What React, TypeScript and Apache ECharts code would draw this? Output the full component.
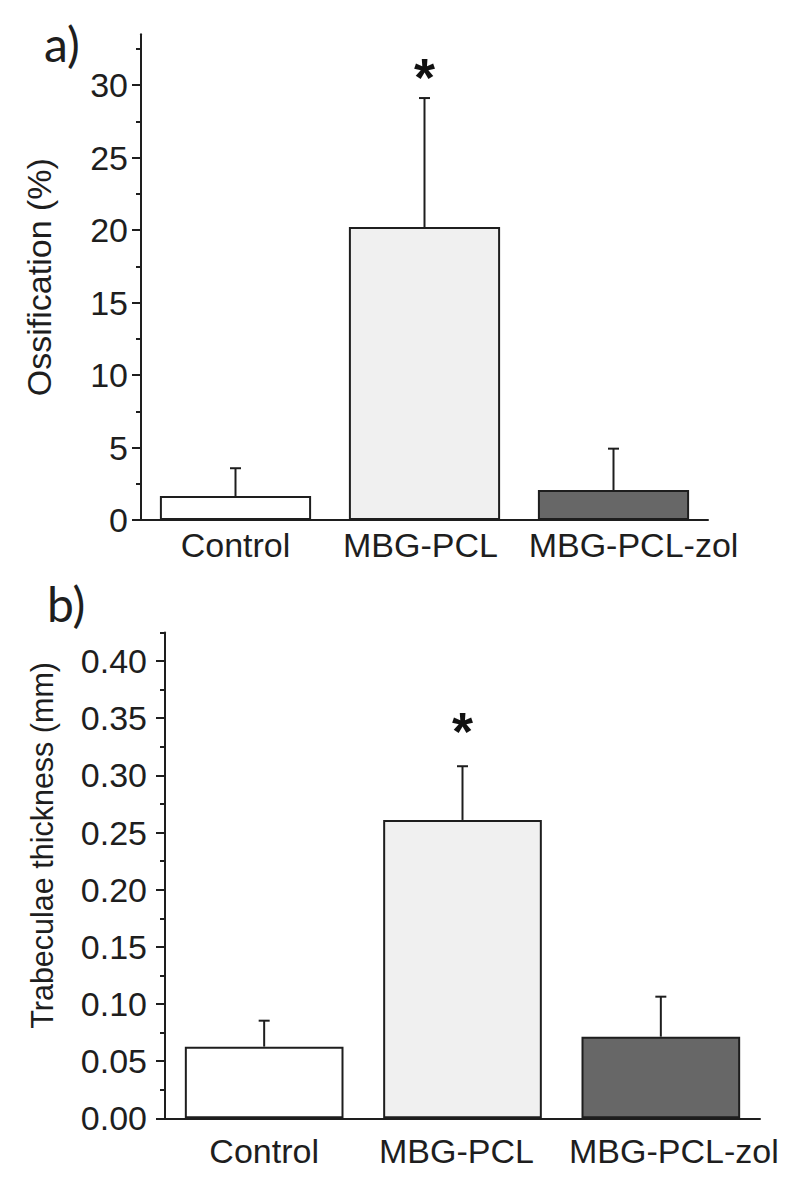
import React, { useEffect, useRef } from "react";
import * as echarts from "echarts";

const categories = ["Control", "MBG-PCL", "MBG-PCL-zol"];

// a) Ossification (%)
const ossMean = [1.65, 20.2, 2.07];
const ossSD = [1.92, 8.9, 2.85];
const ossStar: (number | null)[] = [null, 31.0, null];
const ossTicks = [0, 5, 10, 15, 20, 25, 30];
const ossMinorTicks = [2.5, 7.5, 12.5, 17.5, 22.5, 27.5, 32.5];

// b) Trabeculae thickness (mm)
const trabMean = [0.0627, 0.261, 0.0714];
const trabSD = [0.0227, 0.047, 0.035];
const trabStar: (number | null)[] = [null, 0.3445, null];
const trabTicks = [0, 0.05, 0.1, 0.15, 0.2, 0.25, 0.3, 0.35, 0.4];
const trabMinorTicks = [0.025, 0.075, 0.125, 0.175, 0.225, 0.275, 0.325, 0.375, 0.425];

const barColors = ["#ffffff", "#f0f0f0", "#676767"];

const FONT = '"Liberation Sans", Arial, sans-serif';
const INK = "#1e1e1e";

export default function App() {
  const ref = useRef<HTMLDivElement>(null);

  useEffect(() => {
    if (!ref.current) return;
    const chart = echarts.init(ref.current, null, { renderer: "svg" });

    const labelShiftTop = [0, -8, 40];
    const labelShiftBot = [0, -12, 26];
    const mkRich = (shifts: number[]) => {
      const r: any = {};
      shifts.forEach((s, i) => {
        r["c" + i] = {
          fontSize: 34,
          fontFamily: FONT,
          color: INK,
          padding: s >= 0 ? [0, 0, 0, s] : [0, -s, 0, 0],
        };
      });
      return r;
    };

    const xAxis = (gridIndex: number, margin: number, shifts: number[]) => ({
      type: "category",
      gridIndex,
      data: categories,
      axisLine: { lineStyle: { color: INK, width: 2 } },
      axisTick: { show: false },
      axisLabel: {
        margin,
        formatter: (v: string) => `{c${categories.indexOf(v)}|${v}}`,
        rich: mkRich(shifts),
      },
    });

    const yMajor = (
      gridIndex: number,
      max: number,
      ticks: number[],
      name: string,
      nameGap: number,
      nameSize: number,
      namePad: number[],
      labelMargin: number,
      fmt: (v: number) => string
    ) => ({
      type: "value",
      gridIndex,
      min: 0,
      max,
      position: "left",
      name,
      nameLocation: "middle",
      nameGap,
      nameTextStyle: { fontSize: nameSize, fontFamily: FONT, color: INK, padding: namePad },
      axisLine: { show: true, lineStyle: { color: INK, width: 2 } },
      axisTick: { show: true, customValues: ticks, length: 9, lineStyle: { color: INK, width: 2 } },
      axisLabel: {
        customValues: ticks,
        fontSize: 34,
        fontFamily: FONT,
        color: INK,
        margin: labelMargin,
        formatter: fmt,
      },
      splitLine: { show: false },
    });

    const yMinor = (gridIndex: number, max: number, ticks: number[]) => ({
      type: "value",
      gridIndex,
      min: 0,
      max,
      position: "left",
      axisLine: { show: false },
      axisTick: { show: true, customValues: ticks, length: 5, lineStyle: { color: INK, width: 2 } },
      axisLabel: { show: false },
      splitLine: { show: false },
    });

    const barSeries = (xi: number, yi: number, means: number[]) => ({
      type: "bar",
      xAxisIndex: xi,
      yAxisIndex: yi,
      barWidth: "80%",
      data: means.map((v, i) => ({
        value: v,
        itemStyle: { color: barColors[i], borderColor: INK, borderWidth: 2 },
      })),
    });

    const errSeries = (xi: number, yi: number, means: number[], sds: number[]) => ({
      type: "custom",
      xAxisIndex: xi,
      yAxisIndex: yi,
      clip: false,
      z: 3,
      data: means.map((m, i) => [i, m, m + sds[i]]),
      renderItem: (_p: any, api: any) => {
        const x = api.value(0);
        const base = api.coord([x, api.value(1)]);
        const top = api.coord([x, api.value(2)]);
        const half = 5.5;
        return {
          type: "group",
          children: [
            {
              type: "line",
              shape: { x1: base[0], y1: base[1], x2: top[0], y2: top[1] },
              style: { stroke: INK, lineWidth: 2 },
            },
            {
              type: "line",
              shape: { x1: top[0] - half, y1: top[1], x2: top[0] + half, y2: top[1] },
              style: { stroke: INK, lineWidth: 2 },
            },
          ],
        };
      },
    });

    const starSeries = (xi: number, yi: number, stars: (number | null)[]) => ({
      type: "custom",
      xAxisIndex: xi,
      yAxisIndex: yi,
      clip: false,
      z: 4,
      data: stars
        .map((s, i) => (s == null ? null : [i, s]))
        .filter((d) => d != null),
      renderItem: (_p: any, api: any) => {
        const p = api.coord([api.value(0), api.value(1)]);
        return {
          type: "text",
          x: p[0],
          y: p[1] + 6,
          style: {
            text: "*",
            fontSize: 54,
            fontWeight: "bold",
            fontFamily: FONT,
            fill: "#111",
            align: "center",
            verticalAlign: "middle",
          },
        };
      },
    });

    chart.setOption({
      animation: false,
      backgroundColor: "#ffffff",
      grid: [
        { left: 141, right: 92, top: 34.25, height: 485.75 },
        { left: 165, right: 40, top: 632.5, height: 485.8 },
      ],
      xAxis: [xAxis(0, 8, labelShiftTop), xAxis(1, 16, labelShiftBot)],
      yAxis: [
        yMajor(0, 33.5, ossTicks, "Ossification (%)", 85, 34, [0, 0, 0, 0], 13, (v) => String(v)),
        yMinor(0, 33.5, ossMinorTicks),
        yMajor(1, 0.425, trabTicks, "Trabeculae thickness (mm)", 108, 30.5, [0, 0, 0, 60], 18, (v) =>
          v.toFixed(2)
        ),
        yMinor(1, 0.425, trabMinorTicks),
      ],
      graphic: [
        {
          type: "text",
          left: 44,
          top: 19,
          style: { text: "a)", fontSize: 48, fontFamily: "Lato, sans-serif", fill: INK },
        },
        {
          type: "text",
          left: 47,
          top: 579,
          style: { text: "b)", fontSize: 48, fontFamily: "Lato, sans-serif", fill: INK },
        },
      ],
      series: [
        barSeries(0, 0, ossMean),
        errSeries(0, 0, ossMean, ossSD),
        starSeries(0, 0, ossStar),
        barSeries(1, 2, trabMean),
        errSeries(1, 2, trabMean, trabSD),
        starSeries(1, 2, trabStar),
      ],
    });

    return () => chart.dispose();
  }, []);

  return (
    <div
      ref={ref}
      style={{ position: "absolute", left: 0, top: 0, width: 800, height: 1191, background: "#fff" }}
    />
  );
}
